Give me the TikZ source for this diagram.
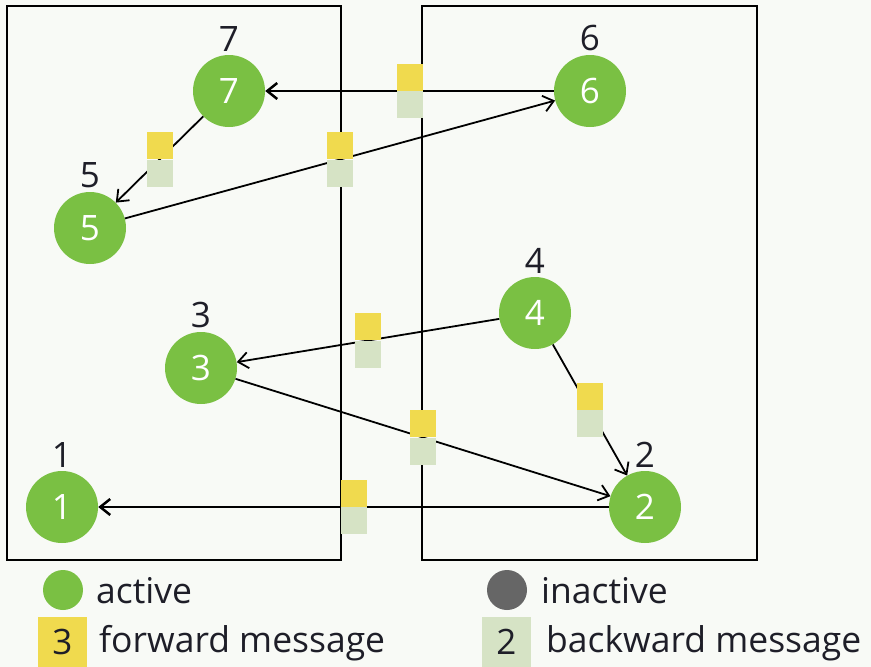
\documentclass[tikz,border=0pt]{standalone}
\usepackage{fontspec}
\setmainfont{Open Sans}
\usepackage{xcolor}
\usetikzlibrary{calc,arrows.meta}
\definecolor{bgcol}{RGB}{248,250,246}
\definecolor{activegreen}{RGB}{122,192,67}
\definecolor{inactivegray}{RGB}{102,102,102}
\definecolor{fwdyellow}{RGB}{240,218,78}
\definecolor{bwdgreen}{RGB}{214,227,197}
\definecolor{labtext}{RGB}{30,30,40}

\begin{document}
\begin{tikzpicture}[x=1pt, y=-1pt, font=\fontsize{35}{40}\selectfont,
  vertex/.style={circle, fill=activegreen, text=white, minimum size=72pt, inner sep=0pt, label distance=12pt},
  every label/.style={text=labtext},
  msg/.style={-{Straight Barb[length=10pt,width=16pt]}, line width=1.8pt},
  fwdbox/.style={fill=fwdyellow, minimum width=26pt, minimum height=27pt, inner sep=0pt, anchor=south},
  bwdbox/.style={fill=bwdgreen, minimum width=26pt, minimum height=27pt, inner sep=0pt, anchor=north},
  legtext/.style={anchor=base west, text=labtext, inner sep=0pt, font=\fontsize{35.5}{40}\selectfont}]
\fill[bgcol] (0,0) rectangle (871,667);
\useasboundingbox (0,0) rectangle (871,667);
% the two machines
\draw[line width=1.3pt] (7,6) rectangle (341,560);
\draw[line width=1.3pt] (422,6) rectangle (757,560);
% vertices
\node[vertex, label=above:7] (n7) at (229,91) {7};
\node[vertex, label=above:6] (n6) at (590,91) {6};
\node[vertex, label=above:5] (n5) at (90,228) {5};
\node[vertex, label=above:4] (n4) at (535,313) {4};
\node[vertex, label=above:3] (n3) at (201,368) {3};
\node[vertex, label=above:1] (n1) at (62,507) {1};
\node[vertex, label=above:2] (n2) at (645,507) {2};
% edges
\draw[msg, line width=2.5pt] (n6) -- (n7);
\draw[msg] (n7) -- (n5); \draw[msg] (n5) -- (n6);
\draw[msg] (n4) -- (n3); \draw[msg] (n3) -- (n2); \draw[msg] (n4) -- (n2);
\draw[msg, line width=2.5pt] (n2) -- (n1);
% messages on the edges
\foreach \a/\b in {6/7,7/5,5/6,4/3,3/2,4/2,2/1} {
  \node[fwdbox] (f\a\b) at ($(n\a)!0.5!(n\b)$) {};
  \node[bwdbox] (b\a\b) at ($(n\a)!0.5!(n\b)$) {};
}
% legend
\node[circle, fill=activegreen, minimum size=40pt, inner sep=0pt] (lgact) at (63,590) {};
\node[legtext] (lgacttxt) at (96,603) {active};
\node[circle, fill=inactivegray, minimum size=40pt, inner sep=0pt] (lginact) at (507,590) {};
\node[legtext] (lginacttxt) at (541,603) {inactive};
\node[fill=fwdyellow, minimum width=49pt, minimum height=50pt, inner sep=0pt, text=labtext] (lgfwd) at (62.5,642) {3};
\node[legtext] (lgfwdtxt) at (99,652) {forward message};
\node[fill=bwdgreen, minimum width=49pt, minimum height=50pt, inner sep=0pt, text=labtext] (lgbwd) at (506.5,642) {2};
\node[legtext] (lgbwdtxt) at (546,652) {backward message};
\end{tikzpicture}
\end{document}
